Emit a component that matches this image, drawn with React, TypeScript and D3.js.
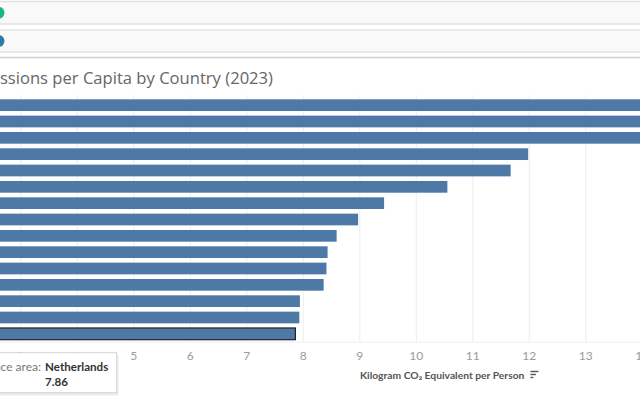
import React, { useEffect, useRef } from "react";
import * as d3 from "d3";

// Emissions per capita, 2023 (sorted descending)
const countries = [
  "Luxembourg", "Ireland", "Estonia", "Czechia", "Poland", "Belgium", "Germany",
  "Austria", "Finland", "Cyprus", "Denmark", "Slovenia", "Greece", "Lithuania", "Netherlands",
];
const values = [16.2, 15.4, 14.8, 11.98, 11.67, 10.55, 9.43, 8.97, 8.59, 8.43, 8.41, 8.36, 7.94, 7.93, 7.86];
const tickValues = [0, 1, 2, 3, 4, 5, 6, 7, 8, 9, 10, 11, 12, 13, 14];
const titleText = "Emissions per Capita by Country (2023)";
const axisTitle = "Kilogram CO\u2082 Equivalent per Person";
const selected = "Netherlands";

const W = 640;
const H = 400;
const FONT = "'Open Sans', 'Noto Sans', sans-serif";
const SMALL = "Lato, 'Open Sans', sans-serif";
const BAR = "#4e79a7";

export default function App() {
  const ref = useRef<SVGSVGElement | null>(null);

  useEffect(() => {
    document.body.style.margin = "0";
    const svg = d3.select(ref.current);
    svg.selectAll("*").remove();

    const x = d3.scaleLinear().domain([0, 14]).range([-148.7, 642.3]);
    const y = d3.scaleBand<string>().domain(countries).range([97, 342]).paddingInner(0.283).paddingOuter(0.1415);

    // filter / legend strips at the top
    const strips = [
      { y: 1.5, h: 22.5, c: "#1db487" },
      { y: 30, h: 22, c: "#2d7ba6" },
    ];
    strips.forEach((s) => {
      svg.append("rect").attr("x", -2).attr("y", s.y).attr("width", W + 4).attr("height", s.h)
        .attr("fill", "#f9f9f9").attr("stroke", "#e2e2e2").attr("stroke-width", 1.5);
      svg.append("circle").attr("cx", -1.5).attr("cy", s.y + s.h / 2).attr("r", 6).attr("fill", s.c);
    });
    svg.append("line").attr("x1", 0).attr("x2", W).attr("y1", 57.5).attr("y2", 57.5)
      .attr("stroke", "#cfcfcf").attr("stroke-width", 1.5);

    // title
    svg.append("text").attr("x", 273).attr("y", 84).attr("text-anchor", "end")
      .attr("font-family", FONT).attr("font-size", 16.6).attr("fill", "#666").text(titleText);

    // gridlines
    svg.append("g").selectAll("line").data(tickValues).join("line")
      .attr("x1", (d) => x(d)).attr("x2", (d) => x(d)).attr("y1", 95).attr("y2", 342)
      .attr("stroke", "#eeeeee").attr("stroke-width", 1);
    svg.append("line").attr("x1", 0).attr("x2", W).attr("y1", 342).attr("y2", 342)
      .attr("stroke", "#eeeeee");

    // bars
    const rows = countries.map((c, i) => ({ c, v: values[i] }));
    svg.append("g").selectAll("rect").data(rows).join("rect")
      .attr("x", x(0)).attr("y", (d) => y(d.c)!)
      .attr("width", (d) => x(d.v) - x(0)).attr("height", y.bandwidth())
      .attr("fill", BAR)
      .attr("stroke", (d) => (d.c === selected ? "#222" : "none"))
      .attr("stroke-width", 1.2);

    // axis tick labels (only those inside the view)
    svg.append("g").selectAll("text").data(tickValues.filter((d) => x(d) > 0)).join("text")
      .attr("x", (d) => x(d)).attr("y", 360).attr("text-anchor", "middle")
      .attr("font-family", SMALL).attr("font-size", 12).attr("fill", "#9a9a9a")
      .text((d) => d);

    // axis title + sort icon placed after it
    const at = svg.append("text").attr("x", 360).attr("y", 378.5)
      .attr("font-family", SMALL).attr("font-size", 10.3).attr("font-weight", 700)
      .attr("fill", "#555").text(axisTitle);
    const atEnd = 360 + (at.node() as SVGTextElement).getComputedTextLength();
    [0, 1, 2].forEach((i) => {
      svg.append("line").attr("x1", atEnd + 6).attr("x2", atEnd + 14 - i * 2.5)
        .attr("y1", 371.5 + i * 3).attr("y2", 371.5 + i * 3)
        .attr("stroke", "#555").attr("stroke-width", 1.4);
    });

    // tooltip
    const tip = svg.append("g");
    tip.append("rect").attr("x", -10).attr("y", 354).attr("width", 127).attr("height", 40)
      .attr("fill", "#000").attr("opacity", 0.08).attr("transform", "translate(1.5,1.5)");
    tip.append("rect").attr("x", -10).attr("y", 352.7).attr("width", 126.7).attr("height", 40)
      .attr("fill", "#fff").attr("stroke", "#d4d4d4");
    const lab1 = tip.append("text").attr("y", 371).attr("font-family", SMALL).attr("font-size", 12)
      .attr("fill", "#777").text("Reference area:");
    const w1 = (lab1.node() as SVGTextElement).getComputedTextLength();
    const lx = 41 - w1;
    lab1.attr("x", lx);
    tip.append("text").attr("x", lx).attr("y", 385.5).attr("font-family", SMALL).attr("font-size", 12)
      .attr("fill", "#777").text("Value:");
    tip.append("text").attr("x", 45).attr("y", 371).attr("font-family", SMALL).attr("font-size", 11.6)
      .attr("font-weight", 700).attr("fill", "#333").text(selected);
    tip.append("text").attr("x", 45).attr("y", 385.5).attr("font-family", SMALL).attr("font-size", 11.6)
      .attr("font-weight", 700).attr("fill", "#333").text(values[countries.indexOf(selected)].toFixed(2));
  }, []);

  return <svg ref={ref} width={W} height={H} style={{ display: "block", background: "#fff" }} />;
}
